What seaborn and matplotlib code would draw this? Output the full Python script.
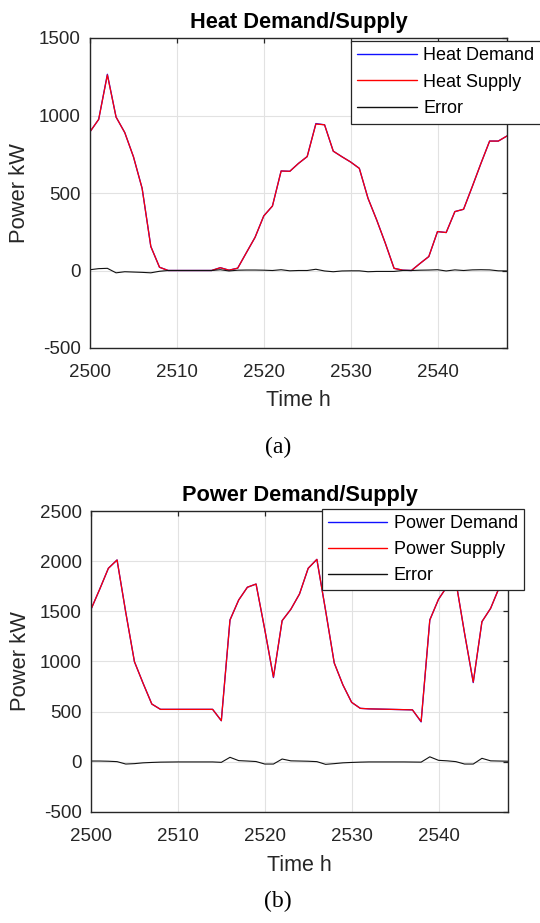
import matplotlib
matplotlib.use("Agg")
import matplotlib.pyplot as plt
import numpy as np
import pandas as pd
import seaborn as sns

# ---------------- data ----------------
hours = list(range(2500, 2549))

heat_demand = [895, 975, 1266, 990, 890, 734, 530, 155, 21, 0,
               0, 0, 0, 0, 0, 18, 2, 15, 115, 214,
               352, 416, 642, 640, 691, 735, 948, 940, 770, 734,
               700, 659, 466, 326, 175, 14, 2, 0, 46, 90,
               251, 245, 380, 395, 541, 691, 835, 835, 868]
heat_supply = [895, 975, 1262, 990, 890, 734, 530, 155, 21, 0,
               0, 0, 0, 0, 0, 18, 2, 15, 115, 214,
               352, 416, 642, 640, 691, 735, 945, 940, 770, 734,
               700, 659, 466, 326, 175, 14, 2, 0, 46, 90,
               251, 245, 380, 395, 541, 691, 835, 835, 868]
heat_error = [5, 12, 14, -15, -8, -10, -12, -15, -5, 0,
              0, 0, 0, 0, 0, 5, -3, 2, 3, 3,
              2, 0, 5, -2, 0, 0, 8, -3, -8, -3,
              -2, -2, -8, -6, -6, -6, 0, 0, 2, 3,
              5, -3, 4, 0, 4, 5, 4, -2, -3]

power_demand = [1520, 1720, 1929, 2012, 1490, 998, 782, 576, 523, 523,
                523, 523, 523, 523, 523, 410, 1414, 1613, 1740, 1772,
                1320, 840, 1407, 1520, 1673, 1929, 2018, 1510, 985, 766,
                593, 533, 528, 526, 524, 522, 520, 518, 398, 1414,
                1620, 1750, 1800, 1281, 790, 1397, 1530, 1740, 1950]
power_supply = [1520, 1720, 1929, 2012, 1490, 998, 782, 576, 523, 523,
                523, 523, 523, 523, 523, 410, 1414, 1613, 1740, 1772,
                1320, 845, 1407, 1520, 1673, 1929, 2018, 1510, 985, 766,
                593, 533, 528, 526, 524, 522, 520, 518, 402, 1414,
                1620, 1750, 1800, 1281, 795, 1397, 1530, 1740, 1950]
power_error = [8, 8, 6, 2, -22, -18, -10, -6, -3, -2,
               -1, -1, -1, -1, -1, -5, 45, 12, 8, 3,
               -22, -22, 28, 10, 8, 6, 2, -25, -18, -10,
               -6, -3, -1, -1, -1, -1, -1, -2, -3, 50,
               15, 10, 2, -22, -22, 35, 10, 8, 6]

x_ticks = [2500, 2510, 2520, 2530, 2540]
heat_yticks = [-500, 0, 500, 1000, 1500]
power_yticks = [-500, 0, 500, 1000, 1500, 2000, 2500]

heat_names = ["Heat Demand", "Heat Supply", "Error"]
power_names = ["Power Demand", "Power Supply", "Error"]
series_colors = ["#1010ff", "#ff0000", "#111111"]

# ---------------- style ----------------
sns.set_style("white")
plt.rcParams["font.family"] = ["Liberation Sans", "DejaVu Sans"]
plt.rcParams["axes.unicode_minus"] = False
TXT = "#262626"

W, H = 540, 923
fig = plt.figure(figsize=(W / 100, H / 100), dpi=100)
ax1 = fig.add_axes([90 / W, 1 - 348 / H, 417 / W, 310 / H])
ax2 = fig.add_axes([91 / W, 1 - 812 / H, 417 / W, 301 / H])


def draw(ax, names, values, title, yticks, leg_xy, spacing, cap, cap_y, xlab_y):
    frames = []
    for n, v in zip(names, values):
        frames.append(pd.DataFrame({"Time": hours, "Value": v, "Series": n}))
    df = pd.concat(frames, ignore_index=True)
    sns.lineplot(data=df, x="Time", y="Value", hue="Series", hue_order=names,
                 palette=dict(zip(names, series_colors)), linewidth=0.9,
                 ax=ax, sort=False)
    for ln, lw in zip(ax.get_lines()[:3], [0.95, 0.9, 0.8]):
        ln.set_linewidth(lw)
    ax.set_xlim(2500, 2548)
    ax.set_ylim(yticks[0], yticks[-1])
    ax.set_xticks(x_ticks)
    ax.set_yticks(yticks)
    ax.grid(True, color="#e2e2e2", linewidth=0.8)
    ax.set_axisbelow(True)
    for s in ax.spines.values():
        s.set_visible(True)
        s.set_color(TXT)
        s.set_linewidth(1.0)
    ax.tick_params(axis="both", direction="in", length=3.5, width=0.9,
                   top=True, right=True, labelsize=13.5, colors=TXT)
    ax.tick_params(axis="x", pad=11.5)
    ax.tick_params(axis="y", pad=6.5)
    ax.set_title(title, fontsize=15.7, fontweight="bold", color="black", pad=7.5)
    ax.set_xlabel("Time h", fontsize=15.5, color=TXT)
    ax.set_ylabel("Power kW", fontsize=15.8, color=TXT)
    ax.yaxis.set_label_coords(-0.143, 0.5)
    ax.xaxis.set_label_coords(0.5, xlab_y)

    handles, labels = ax.get_legend_handles_labels()
    leg = ax.legend(handles, labels, loc="upper left", bbox_to_anchor=leg_xy,
                    bbox_transform=fig.transFigure, frameon=True, fancybox=False,
                    framealpha=1, edgecolor=TXT, fontsize=13, handlelength=3.3,
                    handletextpad=0.35, labelspacing=spacing, borderpad=0.35,
                    borderaxespad=0)
    leg.get_frame().set_linewidth(0.9)
    for t in leg.get_texts():
        t.set_color("black")
    for lh in leg.get_lines():
        lh.set_linewidth(1.0)

    fig.text(278 / W, 1 - cap_y / H, cap, family=["Liberation Serif", "DejaVu Serif"],
             fontsize=17, ha="center", va="center", color="black")


draw(ax1, heat_names, [heat_demand, heat_supply, heat_error],
     "Heat Demand/Supply", heat_yticks, (351 / W, 1 - 40.5 / H), 0.54, "(a)", 447,
     (348 - 390.5) / 310)
draw(ax2, power_names, [power_demand, power_supply, power_error],
     "Power Demand/Supply", power_yticks, (321.5 / W, 1 - 508.5 / H), 0.5, "(b)", 901,
     (812 - 855) / 301)

fig.savefig("out.png", dpi=100)
